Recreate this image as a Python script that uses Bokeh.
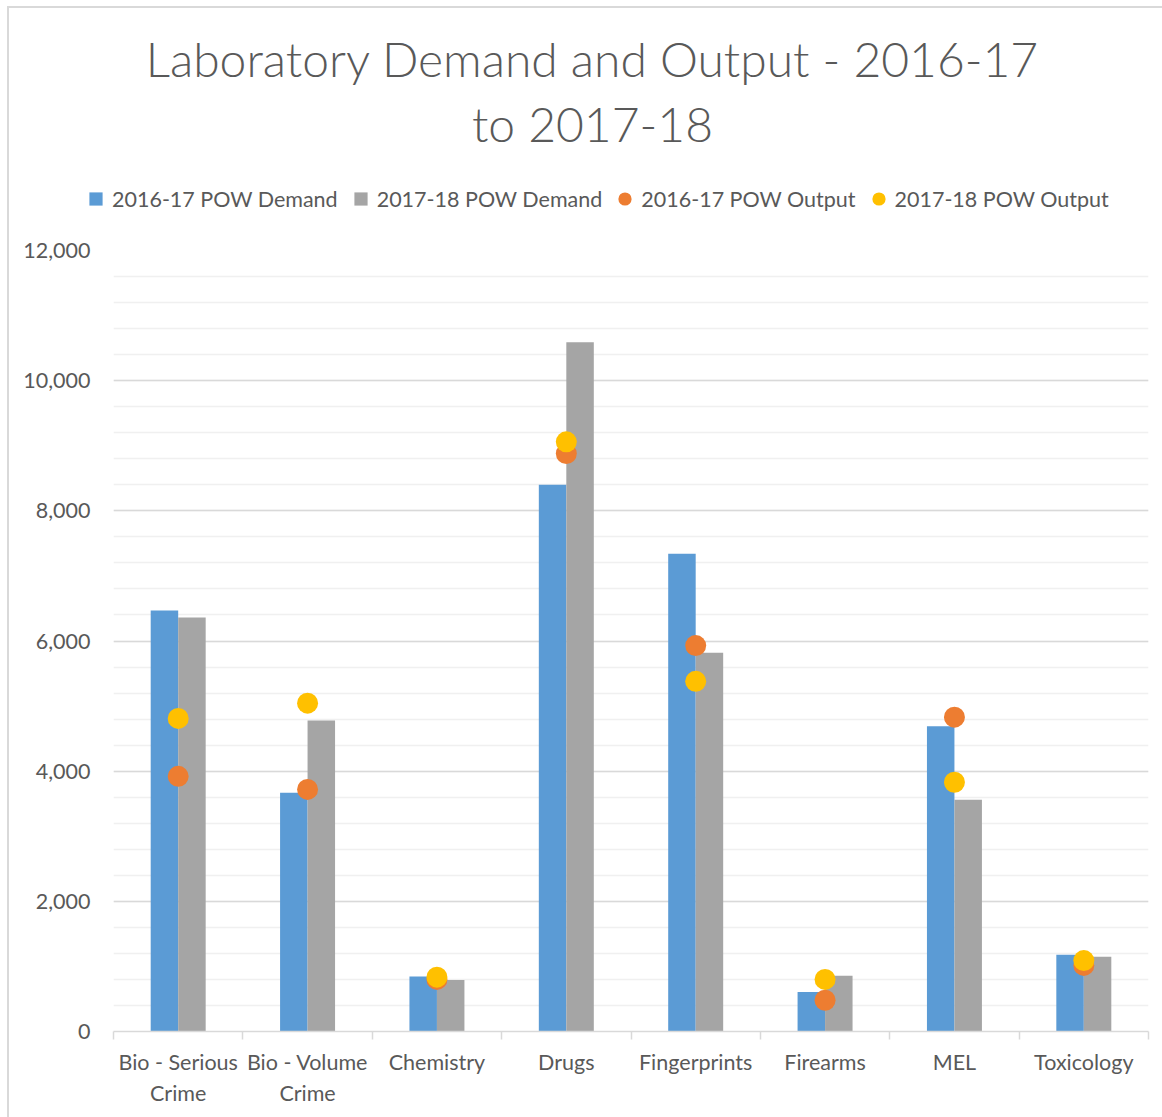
from bokeh.plotting import figure
from bokeh.layouts import column
from bokeh.models import (ColumnDataSource, FixedTicker, NumeralTickFormatter,
                          Legend, LegendItem, Label, Range1d)
from bokeh.transform import dodge
from bokeh.embed import file_html
from bokeh.resources import INLINE

# ---------------- data ----------------
categories = ["Bio - Serious Crime", "Bio - Volume Crime", "Chemistry", "Drugs",
              "Fingerprints", "Firearms", "MEL", "Toxicology"]
tick_labels = ["Bio - Serious\nCrime", "Bio - Volume\nCrime", "Chemistry", "Drugs",
               "Fingerprints", "Firearms", "MEL", "Toxicology"]
demand_2016_17 = [6470, 3670, 845, 8400, 7340, 605, 4690, 1180]
demand_2017_18 = [6360, 4780, 790, 10590, 5820, 855, 3560, 1150]
output_2016_17 = [3920, 3720, 800, 8880, 5930, 480, 4830, 1015]
output_2017_18 = [4810, 5045, 835, 9060, 5380, 800, 3830, 1090]
series_names = ["2016-17 POW Demand", "2017-18 POW Demand",
                "2016-17 POW Output", "2017-18 POW Output"]
y_major_ticks = [0, 2000, 4000, 6000, 8000, 10000, 12000]
y_minor_ticks = list(range(0, 12001, 400))
title_text = "Laboratory Demand and Output - 2016-17\nto 2017-18"

BLUE, GRAY, ORANGE, YELLOW = "#5B9BD5", "#A5A5A5", "#ED7D31", "#FFC000"
TXT = "#595959"
FONT = "Lato"

W = 1153
TOP_H = 212
n = len(categories)
centers = [i + 0.5 for i in range(n)]
src = ColumnDataSource(dict(x=centers, cat=categories, d1=demand_2016_17, d2=demand_2017_18,
                            o1=output_2016_17, o2=output_2017_18))

# ---------------- header (title + legend) ----------------
head = figure(width=W, height=TOP_H, x_range=Range1d(0, W), y_range=Range1d(0, TOP_H),
              output_backend="svg", toolbar_location=None,
              x_axis_location=None, y_axis_location=None,
              min_border_left=0, min_border_right=0, min_border_top=0, min_border_bottom=0)
head.outline_line_color = None
head.grid.visible = False
head.background_fill_color = "white"
head.border_fill_color = "white"

head.add_layout(Label(x=583, y=191, text=title_text,
                      text_align="center", text_baseline="top", text_font="Lato Light",
                      text_font_size="48px", text_color=TXT, text_line_height=1.15))

# legend proxy renderers (single point kept outside the visible range)
proxy = ColumnDataSource(dict(x=[-1000], y=[-1000]))
lg1 = head.scatter(x="x", y="y", source=proxy, marker="square", fill_color=BLUE, line_color=None)
lg2 = head.scatter(x="x", y="y", source=proxy, marker="square", fill_color=GRAY, line_color=None)
lg3 = head.scatter(x="x", y="y", source=proxy, marker="circle", fill_color=ORANGE, line_color=None)
lg4 = head.scatter(x="x", y="y", source=proxy, marker="circle", fill_color=YELLOW, line_color=None)

legend = Legend(items=[LegendItem(label=series_names[0], renderers=[lg1]),
                       LegendItem(label=series_names[1], renderers=[lg2]),
                       LegendItem(label=series_names[2], renderers=[lg3]),
                       LegendItem(label=series_names[3], renderers=[lg4])],
                orientation="horizontal", location=(70, 5),
                glyph_width=33, glyph_height=33, label_standoff=0, spacing=6,
                padding=0, margin=0, border_line_color=None, background_fill_alpha=0,
                label_text_font=FONT, label_text_font_size="21.5px",
                label_text_color=TXT)
head.add_layout(legend)

# ---------------- chart ----------------
p = figure(width=W, height=897, x_range=Range1d(0, n), y_range=Range1d(0, 12000),
           output_backend="svg", toolbar_location=None,
           min_border_left=104, min_border_right=14, min_border_top=30, min_border_bottom=86)
p.outline_line_color = None
p.background_fill_color = "white"
p.border_fill_color = "white"

bw = 0.2125
p.vbar(x=dodge("x", -bw / 2, range=p.x_range), top="d1", width=bw, bottom=0,
       source=src, fill_color=BLUE, line_color=None)
p.vbar(x=dodge("x", bw / 2, range=p.x_range), top="d2", width=bw, bottom=0,
       source=src, fill_color=GRAY, line_color=None)
p.scatter(x="x", y="o1", source=src, size=21, marker="circle",
          fill_color=ORANGE, line_color=None)
p.scatter(x="x", y="o2", source=src, size=21, marker="circle",
          fill_color=YELLOW, line_color=None)

# y axis
p.yaxis.ticker = FixedTicker(ticks=y_major_ticks, minor_ticks=y_minor_ticks)
p.yaxis.formatter = NumeralTickFormatter(format="0,0")
p.yaxis.axis_line_color = None
p.yaxis.major_tick_line_color = None
p.yaxis.minor_tick_line_color = None
p.yaxis.major_tick_out = 0
p.yaxis.major_tick_in = 0
p.yaxis.major_label_standoff = 19
p.yaxis.major_label_text_font = FONT
p.yaxis.major_label_text_font_size = "21.5px"
p.yaxis.major_label_text_color = TXT

p.ygrid.ticker = FixedTicker(ticks=y_major_ticks, minor_ticks=y_minor_ticks)
p.ygrid.grid_line_color = "#D9D9D9"
p.ygrid.grid_line_width = 1.5
p.ygrid.minor_grid_line_color = "#F0F0F0"
p.ygrid.minor_grid_line_width = 1.5
p.xgrid.grid_line_color = None

# x axis
p.xaxis.ticker = FixedTicker(ticks=centers, minor_ticks=list(range(n + 1)))
p.xaxis.major_label_overrides = {c: t for c, t in zip(centers, tick_labels)}
p.xaxis.axis_line_color = "#D9D9D9"
p.xaxis.axis_line_width = 1.5
p.xaxis.major_tick_line_color = None
p.xaxis.major_tick_out = 0
p.xaxis.major_tick_in = 0
p.xaxis.minor_tick_line_color = "#D9D9D9"
p.xaxis.minor_tick_line_width = 1.5
p.xaxis.minor_tick_out = 8
p.xaxis.minor_tick_in = 0
p.xaxis.major_label_standoff = 9
p.xaxis.major_label_text_font = FONT
p.xaxis.major_label_text_font_size = "21.5px"
p.xaxis.major_label_text_color = TXT

layout = column(column(head, spacing=0), p, spacing=0, margin=(6, 0, 0, 7),
                styles={"border-left": "2px solid #D9D9D9", "border-top": "2px solid #D9D9D9"})
open("out.html", "w").write(file_html(layout, INLINE))
